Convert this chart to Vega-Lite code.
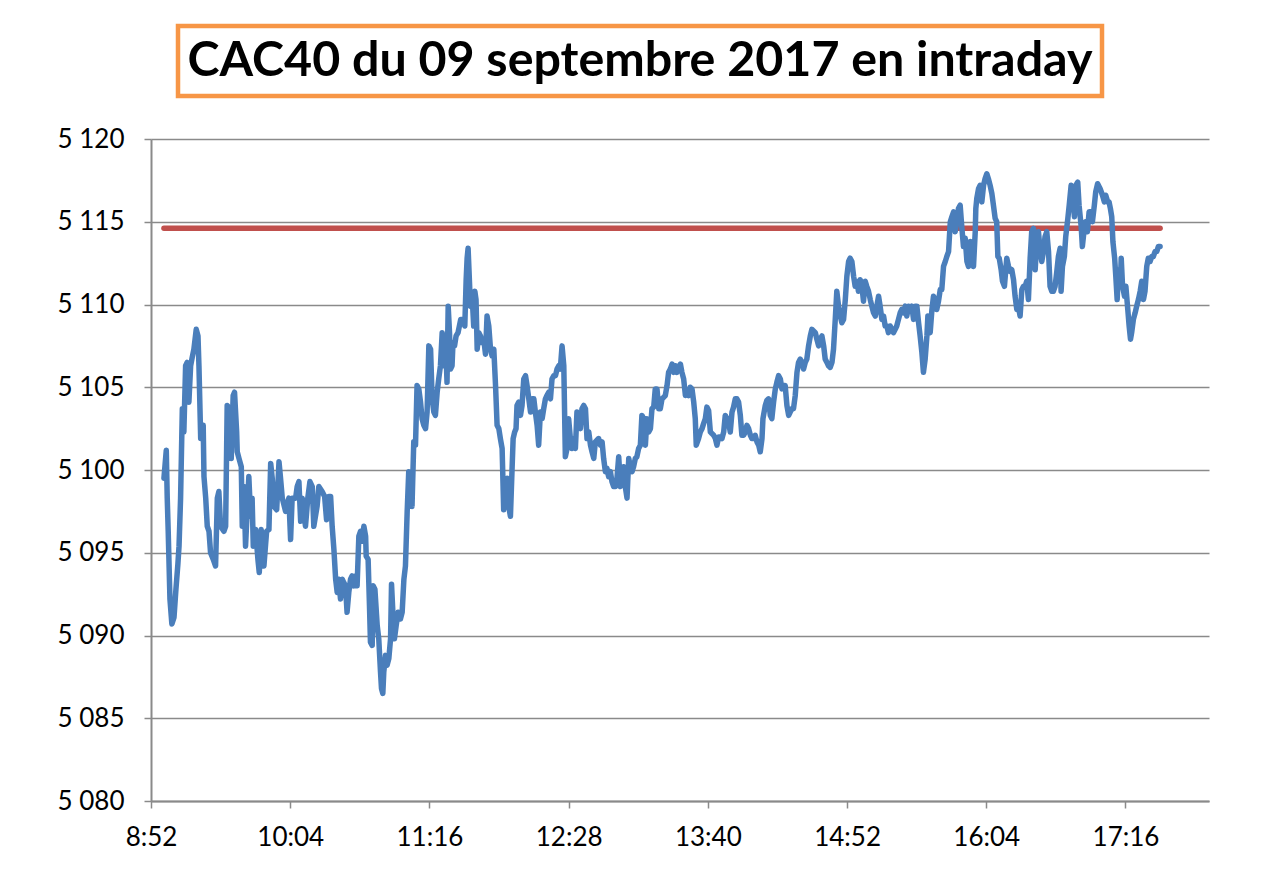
{
  "$schema": "https://vega.github.io/schema/vega-lite/v6.json",
  "background": "white",
  "padding": {"left": 57, "top": 23, "right": 20, "bottom": 20},
  "spacing": 27,
  "center": true,
  "config": {"font": "Lato", "view": {"stroke": null}},
  "datasets": {
    "ref": [{"t": 539.5, "v": 5114.6}, {"t": 1054.7, "v": 5114.6}],
    "cac": [
{"t":539.5,"v":5099.5},{"t":540.7,"v":5101.2},{"t":541.2,"v":5098.3},{"t":541.7,"v":5096.3},{"t":542.6,"v":5092.2},{"t":543.6,"v":5090.7},{"t":544.7,"v":5091.1},{"t":545.7,"v":5092.8},{"t":546.7,"v":5094.3},{"t":547.3,"v":5095.4},
{"t":548.1,"v":5098.3},{"t":549.0,"v":5103.7},{"t":549.8,"v":5102.3},{"t":550.7,"v":5106.3},{"t":551.5,"v":5106.5},{"t":552.4,"v":5104.1},{"t":553.3,"v":5106.3},{"t":554.1,"v":5106.8},{"t":555.0,"v":5107.3},{"t":556.2,"v":5108.5},
{"t":557.1,"v":5108.1},{"t":557.6,"v":5106.3},{"t":558.5,"v":5101.9},{"t":559.8,"v":5102.7},{"t":560.2,"v":5099.6},{"t":561.1,"v":5098.3},{"t":561.9,"v":5096.6},{"t":562.8,"v":5096.3},{"t":563.6,"v":5095.0},{"t":565.0,"v":5094.6},
{"t":566.2,"v":5094.2},{"t":567.1,"v":5098.3},{"t":567.9,"v":5098.7},{"t":568.8,"v":5096.6},{"t":570.5,"v":5096.3},{"t":571.4,"v":5096.6},{"t":572.2,"v":5103.9},{"t":573.6,"v":5103.7},{"t":574.3,"v":5100.7},{"t":575.3,"v":5104.5},
{"t":576.0,"v":5104.7},{"t":577.1,"v":5102.3},{"t":577.4,"v":5101.1},{"t":578.3,"v":5100.7},{"t":579.5,"v":5100.2},{"t":580.0,"v":5096.6},{"t":580.9,"v":5099.0},{"t":581.7,"v":5095.4},{"t":583.4,"v":5099.6},{"t":584.3,"v":5097.2},
{"t":585.1,"v":5098.3},{"t":585.7,"v":5095.4},{"t":586.9,"v":5096.4},{"t":588.1,"v":5094.6},{"t":588.8,"v":5093.8},{"t":589.8,"v":5096.4},{"t":591.2,"v":5094.2},{"t":592.6,"v":5096.3},{"t":593.8,"v":5096.4},{"t":594.7,"v":5100.4},
{"t":595.5,"v":5099.5},{"t":596.4,"v":5097.8},{"t":597.8,"v":5097.6},{"t":599.0,"v":5100.5},{"t":599.8,"v":5099.5},{"t":600.7,"v":5098.3},{"t":602.4,"v":5097.5},{"t":604.1,"v":5098.3},{"t":605.0,"v":5095.8},{"t":605.8,"v":5098.3},
{"t":607.6,"v":5098.3},{"t":608.4,"v":5099.0},{"t":609.3,"v":5099.3},{"t":610.2,"v":5096.9},{"t":611.0,"v":5098.3},{"t":612.7,"v":5096.6},{"t":613.9,"v":5098.3},{"t":615.0,"v":5099.3},{"t":616.2,"v":5099.0},{"t":617.0,"v":5096.6},
{"t":618.7,"v":5097.8},{"t":619.6,"v":5099.0},{"t":621.3,"v":5098.7},{"t":622.6,"v":5098.4},{"t":623.6,"v":5097.0},{"t":624.8,"v":5098.4},{"t":625.7,"v":5098.4},{"t":626.5,"v":5096.6},{"t":627.4,"v":5095.2},{"t":628.3,"v":5093.4},
{"t":629.1,"v":5092.6},{"t":630.0,"v":5093.4},{"t":630.8,"v":5092.2},{"t":631.7,"v":5093.4},{"t":632.5,"v":5093.2},{"t":633.4,"v":5093.0},{"t":634.2,"v":5091.4},{"t":635.1,"v":5092.6},{"t":636.0,"v":5093.4},{"t":636.8,"v":5093.6},
{"t":637.7,"v":5093.0},{"t":638.6,"v":5093.6},{"t":639.4,"v":5093.0},{"t":640.3,"v":5096.0},{"t":641.2,"v":5096.3},{"t":642.0,"v":5095.7},{"t":642.9,"v":5096.6},{"t":643.8,"v":5096.0},{"t":644.1,"v":5094.8},{"t":645.1,"v":5094.6},
{"t":645.8,"v":5091.8},{"t":646.3,"v":5089.6},{"t":647.2,"v":5089.4},{"t":647.7,"v":5093.0},{"t":648.6,"v":5092.8},{"t":649.8,"v":5090.6},{"t":650.6,"v":5089.8},{"t":651.5,"v":5087.8},{"t":652.0,"v":5086.8},{"t":652.7,"v":5086.5},
{"t":653.2,"v":5087.8},{"t":654.1,"v":5088.8},{"t":654.9,"v":5088.2},{"t":655.8,"v":5088.6},{"t":656.7,"v":5089.8},{"t":657.2,"v":5093.1},{"t":657.9,"v":5091.4},{"t":658.7,"v":5089.8},{"t":659.6,"v":5090.6},{"t":660.6,"v":5091.4},
{"t":661.8,"v":5091.0},{"t":662.7,"v":5091.4},{"t":663.6,"v":5093.4},{"t":664.4,"v":5094.2},{"t":665.3,"v":5097.5},{"t":666.1,"v":5099.9},{"t":667.0,"v":5099.5},{"t":667.8,"v":5097.8},{"t":668.7,"v":5101.7},{"t":669.6,"v":5101.5},
{"t":670.4,"v":5105.1},{"t":671.3,"v":5104.9},{"t":672.2,"v":5104.1},{"t":673.0,"v":5103.1},{"t":673.9,"v":5102.7},{"t":674.8,"v":5102.5},{"t":675.6,"v":5103.5},{"t":676.5,"v":5107.5},{"t":677.4,"v":5107.3},{"t":678.2,"v":5104.3},
{"t":679.1,"v":5103.5},{"t":679.9,"v":5103.3},{"t":680.8,"v":5104.7},{"t":681.6,"v":5105.5},{"t":682.5,"v":5106.3},{"t":683.4,"v":5108.3},{"t":684.2,"v":5106.3},{"t":685.1,"v":5108.1},{"t":685.9,"v":5105.3},{"t":686.5,"v":5109.9},
{"t":687.2,"v":5108.3},{"t":687.7,"v":5106.1},{"t":688.5,"v":5106.3},{"t":689.0,"v":5107.7},{"t":689.8,"v":5107.5},{"t":690.6,"v":5108.1},{"t":691.6,"v":5108.3},{"t":692.3,"v":5108.7},{"t":693.0,"v":5109.1},{"t":694.1,"v":5109.1},
{"t":695.1,"v":5108.7},{"t":695.8,"v":5111.5},{"t":696.3,"v":5112.8},{"t":696.8,"v":5113.4},{"t":697.5,"v":5111.4},{"t":698.0,"v":5109.9},{"t":698.9,"v":5110.5},{"t":699.7,"v":5108.7},{"t":700.3,"v":5110.8},{"t":700.9,"v":5110.3},
{"t":701.5,"v":5107.3},{"t":702.3,"v":5108.3},{"t":703.2,"v":5108.1},{"t":704.0,"v":5107.7},{"t":704.9,"v":5107.9},{"t":705.8,"v":5107.0},{"t":706.6,"v":5109.3},{"t":707.5,"v":5108.7},{"t":708.4,"v":5107.3},{"t":709.2,"v":5106.9},
{"t":710.1,"v":5107.3},{"t":711.0,"v":5105.1},{"t":711.8,"v":5102.7},{"t":712.7,"v":5102.5},{"t":713.5,"v":5101.9},{"t":714.4,"v":5101.3},{"t":715.2,"v":5097.6},{"t":716.1,"v":5099.3},{"t":717.0,"v":5099.5},{"t":717.8,"v":5097.8},
{"t":718.7,"v":5097.2},{"t":719.5,"v":5099.9},{"t":720.1,"v":5101.9},{"t":720.9,"v":5102.3},{"t":721.6,"v":5102.5},{"t":722.1,"v":5103.9},{"t":723.0,"v":5104.1},{"t":723.9,"v":5103.3},{"t":724.7,"v":5103.9},{"t":725.6,"v":5105.5},
{"t":726.5,"v":5105.7},{"t":727.3,"v":5105.1},{"t":728.2,"v":5104.3},{"t":729.1,"v":5103.5},{"t":729.9,"v":5104.3},{"t":730.8,"v":5104.3},{"t":731.6,"v":5103.5},{"t":732.5,"v":5102.7},{"t":733.3,"v":5101.5},{"t":734.2,"v":5103.5},
{"t":735.1,"v":5103.1},{"t":735.9,"v":5103.7},{"t":736.8,"v":5104.3},{"t":737.6,"v":5104.5},{"t":738.5,"v":5104.7},{"t":739.4,"v":5104.3},{"t":740.2,"v":5105.5},{"t":741.1,"v":5105.7},{"t":742.0,"v":5105.7},{"t":742.8,"v":5106.1},
{"t":743.7,"v":5106.3},{"t":744.5,"v":5106.1},{"t":745.4,"v":5107.5},{"t":746.3,"v":5106.3},{"t":747.1,"v":5100.8},{"t":748.0,"v":5101.3},{"t":748.8,"v":5103.1},{"t":749.7,"v":5101.9},{"t":750.5,"v":5101.3},{"t":751.4,"v":5101.9},
{"t":752.3,"v":5101.3},{"t":753.1,"v":5103.5},{"t":754.0,"v":5103.1},{"t":754.9,"v":5102.5},{"t":755.7,"v":5103.7},{"t":756.6,"v":5103.9},{"t":757.5,"v":5103.7},{"t":758.3,"v":5101.9},{"t":759.2,"v":5102.3},{"t":760.1,"v":5101.5},
{"t":760.9,"v":5101.1},{"t":761.8,"v":5100.7},{"t":762.6,"v":5101.7},{"t":764.3,"v":5101.9},{"t":765.2,"v":5101.5},{"t":766.1,"v":5101.7},{"t":766.9,"v":5100.7},{"t":767.8,"v":5099.9},{"t":768.6,"v":5100.1},{"t":769.5,"v":5099.6},
{"t":770.4,"v":5099.9},{"t":771.2,"v":5099.3},{"t":772.1,"v":5099.0},{"t":773.0,"v":5099.0},{"t":773.8,"v":5099.5},{"t":774.7,"v":5100.8},{"t":775.6,"v":5099.0},{"t":776.4,"v":5099.5},{"t":777.3,"v":5100.2},{"t":778.1,"v":5099.0},
{"t":779.0,"v":5098.3},{"t":779.9,"v":5100.7},{"t":780.7,"v":5100.2},{"t":781.6,"v":5099.9},{"t":782.4,"v":5100.2},{"t":783.3,"v":5100.7},{"t":784.1,"v":5100.8},{"t":785.0,"v":5101.3},{"t":785.9,"v":5101.5},{"t":786.7,"v":5103.3},
{"t":787.6,"v":5103.1},{"t":788.5,"v":5101.5},{"t":789.3,"v":5103.1},{"t":790.2,"v":5102.3},{"t":791.1,"v":5102.5},{"t":791.9,"v":5103.7},{"t":792.8,"v":5103.8},{"t":793.6,"v":5104.9},{"t":794.5,"v":5104.9},{"t":795.4,"v":5103.7},
{"t":796.2,"v":5103.7},{"t":797.1,"v":5104.3},{"t":798.0,"v":5104.4},{"t":798.8,"v":5104.5},{"t":799.7,"v":5105.1},{"t":800.5,"v":5105.9},{"t":801.4,"v":5106.1},{"t":802.3,"v":5106.4},{"t":803.1,"v":5105.9},{"t":804.0,"v":5106.3},
{"t":804.8,"v":5105.9},{"t":805.7,"v":5106.2},{"t":806.6,"v":5106.4},{"t":807.4,"v":5105.9},{"t":808.3,"v":5105.5},{"t":809.2,"v":5104.5},{"t":810.0,"v":5104.7},{"t":810.9,"v":5104.5},{"t":811.7,"v":5105.0},{"t":812.6,"v":5104.9},
{"t":813.5,"v":5104.1},{"t":814.3,"v":5103.1},{"t":814.8,"v":5101.5},{"t":816.0,"v":5101.9},{"t":816.9,"v":5102.3},{"t":817.8,"v":5102.5},{"t":818.6,"v":5102.8},{"t":819.5,"v":5103.1},{"t":820.3,"v":5103.8},{"t":821.2,"v":5103.6},
{"t":822.1,"v":5102.3},{"t":822.9,"v":5102.2},{"t":823.8,"v":5102.1},{"t":824.7,"v":5101.9},{"t":825.5,"v":5101.5},{"t":826.4,"v":5102.0},{"t":827.3,"v":5102.0},{"t":828.1,"v":5101.9},{"t":829.0,"v":5102.3},{"t":829.8,"v":5103.3},
{"t":830.7,"v":5103.1},{"t":831.5,"v":5102.9},{"t":832.4,"v":5102.3},{"t":833.3,"v":5103.5},{"t":834.1,"v":5103.8},{"t":835.0,"v":5104.3},{"t":835.8,"v":5104.3},{"t":836.7,"v":5104.1},{"t":837.6,"v":5103.3},{"t":838.4,"v":5102.1},
{"t":839.3,"v":5102.1},{"t":840.2,"v":5102.3},{"t":841.0,"v":5102.7},{"t":841.9,"v":5102.5},{"t":842.8,"v":5102.1},{"t":843.6,"v":5101.9},{"t":844.5,"v":5101.9},{"t":845.3,"v":5102.1},{"t":846.2,"v":5101.7},{"t":847.1,"v":5101.5},
{"t":847.9,"v":5101.1},{"t":848.8,"v":5101.9},{"t":849.3,"v":5103.1},{"t":850.5,"v":5103.9},{"t":851.3,"v":5104.2},{"t":852.2,"v":5104.3},{"t":853.1,"v":5103.3},{"t":853.9,"v":5103.1},{"t":854.8,"v":5104.1},{"t":855.7,"v":5104.9},
{"t":856.5,"v":5105.3},{"t":857.4,"v":5105.7},{"t":858.3,"v":5105.5},{"t":859.1,"v":5104.9},{"t":860.0,"v":5105.1},{"t":860.8,"v":5105.1},{"t":861.7,"v":5103.9},{"t":862.6,"v":5103.3},{"t":863.4,"v":5103.5},{"t":864.3,"v":5103.7},
{"t":865.1,"v":5103.7},{"t":866.0,"v":5104.5},{"t":866.9,"v":5105.9},{"t":867.7,"v":5106.5},{"t":868.6,"v":5106.7},{"t":869.4,"v":5106.5},{"t":870.3,"v":5106.1},{"t":871.2,"v":5106.5},{"t":872.0,"v":5106.7},{"t":872.9,"v":5107.5},
{"t":873.8,"v":5108.1},{"t":874.6,"v":5108.5},{"t":875.5,"v":5108.4},{"t":876.4,"v":5108.3},{"t":877.2,"v":5107.9},{"t":878.1,"v":5107.5},{"t":878.9,"v":5107.9},{"t":879.8,"v":5108.1},{"t":880.7,"v":5107.5},{"t":881.5,"v":5106.7},
{"t":882.4,"v":5106.5},{"t":883.2,"v":5106.3},{"t":884.1,"v":5106.2},{"t":885.0,"v":5106.5},{"t":885.8,"v":5107.3},{"t":886.7,"v":5109.1},{"t":887.5,"v":5110.8},{"t":888.4,"v":5109.9},{"t":889.3,"v":5109.3},{"t":890.1,"v":5108.9},
{"t":891.0,"v":5109.1},{"t":891.9,"v":5110.3},{"t":892.7,"v":5111.7},{"t":893.6,"v":5112.6},{"t":894.4,"v":5112.8},{"t":895.3,"v":5112.6},{"t":896.2,"v":5111.7},{"t":897.0,"v":5111.1},{"t":897.9,"v":5111.4},{"t":898.7,"v":5110.8},
{"t":899.6,"v":5111.5},{"t":900.5,"v":5111.1},{"t":901.3,"v":5110.2},{"t":902.2,"v":5111.4},{"t":903.0,"v":5111.1},{"t":903.9,"v":5110.8},{"t":904.8,"v":5110.3},{"t":905.6,"v":5109.9},{"t":906.5,"v":5109.5},{"t":907.4,"v":5109.3},
{"t":908.2,"v":5109.9},{"t":909.1,"v":5110.5},{"t":909.9,"v":5109.9},{"t":910.8,"v":5109.1},{"t":911.7,"v":5109.3},{"t":912.5,"v":5108.7},{"t":913.4,"v":5108.7},{"t":914.2,"v":5108.3},{"t":915.1,"v":5108.7},{"t":916.0,"v":5108.5},
{"t":916.8,"v":5108.3},{"t":917.7,"v":5108.5},{"t":918.5,"v":5108.7},{"t":919.4,"v":5109.1},{"t":920.3,"v":5109.5},{"t":921.1,"v":5109.7},{"t":922.0,"v":5109.5},{"t":922.9,"v":5109.9},{"t":923.7,"v":5109.3},{"t":924.6,"v":5109.9},
{"t":925.5,"v":5109.7},{"t":926.3,"v":5109.9},{"t":927.2,"v":5109.1},{"t":928.0,"v":5109.9},{"t":928.9,"v":5109.9},{"t":929.8,"v":5108.9},{"t":930.6,"v":5108.1},{"t":931.5,"v":5107.1},{"t":932.3,"v":5105.9},{"t":933.2,"v":5106.7},
{"t":934.1,"v":5108.1},{"t":934.6,"v":5109.3},{"t":935.3,"v":5109.1},{"t":935.8,"v":5108.3},{"t":936.7,"v":5109.7},{"t":937.5,"v":5110.5},{"t":938.4,"v":5110.3},{"t":939.2,"v":5109.7},{"t":940.1,"v":5110.2},{"t":941.0,"v":5110.9},
{"t":941.8,"v":5110.9},{"t":942.7,"v":5112.3},{"t":943.6,"v":5112.6},{"t":944.4,"v":5112.9},{"t":945.3,"v":5113.2},{"t":946.2,"v":5115.0},{"t":947.0,"v":5115.3},{"t":947.9,"v":5115.6},{"t":948.7,"v":5114.4},{"t":949.6,"v":5115.0},
{"t":950.4,"v":5115.8},{"t":951.3,"v":5116.0},{"t":952.2,"v":5114.6},{"t":953.0,"v":5113.5},{"t":953.9,"v":5114.0},{"t":954.8,"v":5112.6},{"t":955.6,"v":5112.3},{"t":956.5,"v":5113.8},{"t":957.3,"v":5113.5},{"t":958.2,"v":5112.3},
{"t":959.1,"v":5114.4},{"t":959.4,"v":5115.8},{"t":959.9,"v":5116.4},{"t":960.8,"v":5117.0},{"t":961.6,"v":5117.2},{"t":962.5,"v":5116.2},{"t":963.4,"v":5117.2},{"t":964.2,"v":5117.6},{"t":965.1,"v":5117.9},{"t":965.9,"v":5117.6},
{"t":966.8,"v":5117.2},{"t":967.7,"v":5116.7},{"t":968.5,"v":5116.0},{"t":969.4,"v":5115.2},{"t":970.2,"v":5115.0},{"t":970.8,"v":5112.9},{"t":971.5,"v":5112.8},{"t":972.5,"v":5112.1},{"t":973.2,"v":5111.4},{"t":974.2,"v":5111.1},
{"t":975.4,"v":5112.8},{"t":976.3,"v":5112.3},{"t":977.2,"v":5112.0},{"t":978.0,"v":5112.1},{"t":978.9,"v":5111.5},{"t":979.7,"v":5110.5},{"t":980.6,"v":5109.7},{"t":981.4,"v":5109.9},{"t":982.3,"v":5109.3},{"t":983.2,"v":5110.9},
{"t":984.0,"v":5111.1},{"t":984.9,"v":5111.1},{"t":985.7,"v":5111.4},{"t":986.6,"v":5110.3},{"t":987.5,"v":5112.8},{"t":988.3,"v":5114.4},{"t":989.2,"v":5114.6},{"t":990.1,"v":5112.1},{"t":990.9,"v":5113.8},{"t":991.8,"v":5114.4},
{"t":992.7,"v":5113.2},{"t":993.5,"v":5112.6},{"t":994.4,"v":5113.2},{"t":995.2,"v":5114.1},{"t":996.1,"v":5114.4},{"t":997.0,"v":5113.2},{"t":997.8,"v":5111.1},{"t":998.7,"v":5110.8},{"t":999.5,"v":5110.8},{"t":1000.4,"v":5111.1},
{"t":1001.3,"v":5112.0},{"t":1002.1,"v":5112.9},{"t":1003.0,"v":5113.4},{"t":1003.5,"v":5110.8},{"t":1004.2,"v":5112.3},{"t":1005.2,"v":5112.9},{"t":1005.9,"v":5114.1},{"t":1007.0,"v":5115.2},{"t":1007.7,"v":5116.0},{"t":1008.7,"v":5117.2},
{"t":1009.4,"v":5116.8},{"t":1010.4,"v":5115.3},{"t":1011.1,"v":5117.2},{"t":1012.1,"v":5117.4},{"t":1012.8,"v":5116.0},{"t":1013.9,"v":5114.7},{"t":1014.5,"v":5113.5},{"t":1015.6,"v":5114.7},{"t":1016.2,"v":5115.0},{"t":1017.1,"v":5114.4},
{"t":1018.0,"v":5115.6},{"t":1019.0,"v":5115.6},{"t":1019.7,"v":5115.0},{"t":1020.7,"v":5116.0},{"t":1021.4,"v":5116.8},{"t":1022.4,"v":5117.3},{"t":1023.7,"v":5117.0},{"t":1024.9,"v":5116.6},{"t":1025.9,"v":5116.2},{"t":1026.6,"v":5116.6},
{"t":1027.6,"v":5116.2},{"t":1028.3,"v":5116.2},{"t":1029.0,"v":5115.8},{"t":1029.7,"v":5115.3},{"t":1030.3,"v":5113.8},{"t":1031.2,"v":5112.8},{"t":1031.8,"v":5111.7},{"t":1032.5,"v":5110.3},{"t":1033.2,"v":5112.1},{"t":1034.1,"v":5111.1},
{"t":1034.6,"v":5112.8},{"t":1035.3,"v":5111.1},{"t":1036.3,"v":5110.5},{"t":1037.0,"v":5111.1},{"t":1038.0,"v":5109.7},{"t":1038.7,"v":5108.7},{"t":1039.4,"v":5107.9},{"t":1040.0,"v":5108.3},{"t":1040.9,"v":5109.1},{"t":1041.8,"v":5109.5},
{"t":1042.6,"v":5109.9},{"t":1043.5,"v":5110.3},{"t":1044.4,"v":5110.8},{"t":1045.2,"v":5111.4},{"t":1046.1,"v":5110.3},{"t":1046.9,"v":5110.8},{"t":1047.8,"v":5112.3},{"t":1048.6,"v":5112.8},{"t":1049.5,"v":5112.6},{"t":1050.4,"v":5112.9},
{"t":1051.2,"v":5112.9},{"t":1052.1,"v":5113.2},{"t":1053.0,"v":5113.2},{"t":1053.8,"v":5113.5},{"t":1054.7,"v":5113.5}
    ]
  },
  "vconcat": [
    {
      "spacing": 0,
      "hconcat": [
        {
          "width": 924,
          "height": 70,
          "view": {"stroke": "#F79646", "strokeWidth": 4.5},
          "data": {"values": [{"titre": "CAC40 du 09 septembre 2017 en intraday"}]},
          "mark": {"type": "text", "font": "Lato", "fontWeight": "bold", "fontSize": 48.4, "color": "black", "baseline": "middle", "align": "center"},
          "encoding": {"text": {"field": "titre", "type": "nominal"}}
        },
        {
          "width": 77,
          "height": 70,
          "data": {"values": [{"titre": ""}]},
          "mark": {"type": "text"},
          "encoding": {"text": {"field": "titre", "type": "nominal"}}
        }
      ]
    },
    {
      "width": 1058,
      "height": 662,
      "encoding": {
        "x": {
          "field": "t", "type": "quantitative",
          "scale": {"domain": [532.8, 1080], "nice": false, "zero": false},
          "axis": {
            "values": [532.8, 604.8, 676.8, 748.8, 820.8, 892.8, 964.8, 1036.8],
            "labelExpr": "floor(datum.value/60) + ':' + (floor(datum.value%60) < 10 ? '0' : '') + floor(datum.value%60)",
            "title": null, "grid": false, "labelFlush": false,
            "domainColor": "#8A8A8A", "domainWidth": 2,
            "tickColor": "#8A8A8A", "tickWidth": 1.5, "tickSize": 7,
            "labelFont": "Lato", "labelFontSize": 26, "labelColor": "black", "labelPadding": 16
          }
        },
        "y": {
          "field": "v", "type": "quantitative",
          "scale": {"domain": [5080, 5120], "nice": false, "zero": false},
          "axis": {
            "values": [5080, 5085, 5090, 5095, 5100, 5105, 5110, 5115, 5120],
            "labelExpr": "replace(format(datum.value, ','), ',', ' ')",
            "title": null, "grid": true, "gridColor": "#8A8A8A", "gridWidth": 1.5, "labelFlush": false,
            "domainColor": "#8A8A8A", "domainWidth": 2,
            "tickColor": "#8A8A8A", "tickWidth": 1.5, "tickSize": 7,
            "labelFont": "Lato", "labelFontSize": 26, "labelColor": "black", "labelPadding": 20
          }
        }
      },
      "layer": [
        {"data": {"name": "ref"}, "mark": {"type": "line", "color": "#C0504D", "strokeWidth": 5.5, "strokeCap": "round"}},
        {"data": {"name": "cac"}, "mark": {"type": "line", "color": "#4A7EBB", "strokeWidth": 5.5, "strokeJoin": "round", "strokeCap": "round"}}
      ]
    }
  ]
}
